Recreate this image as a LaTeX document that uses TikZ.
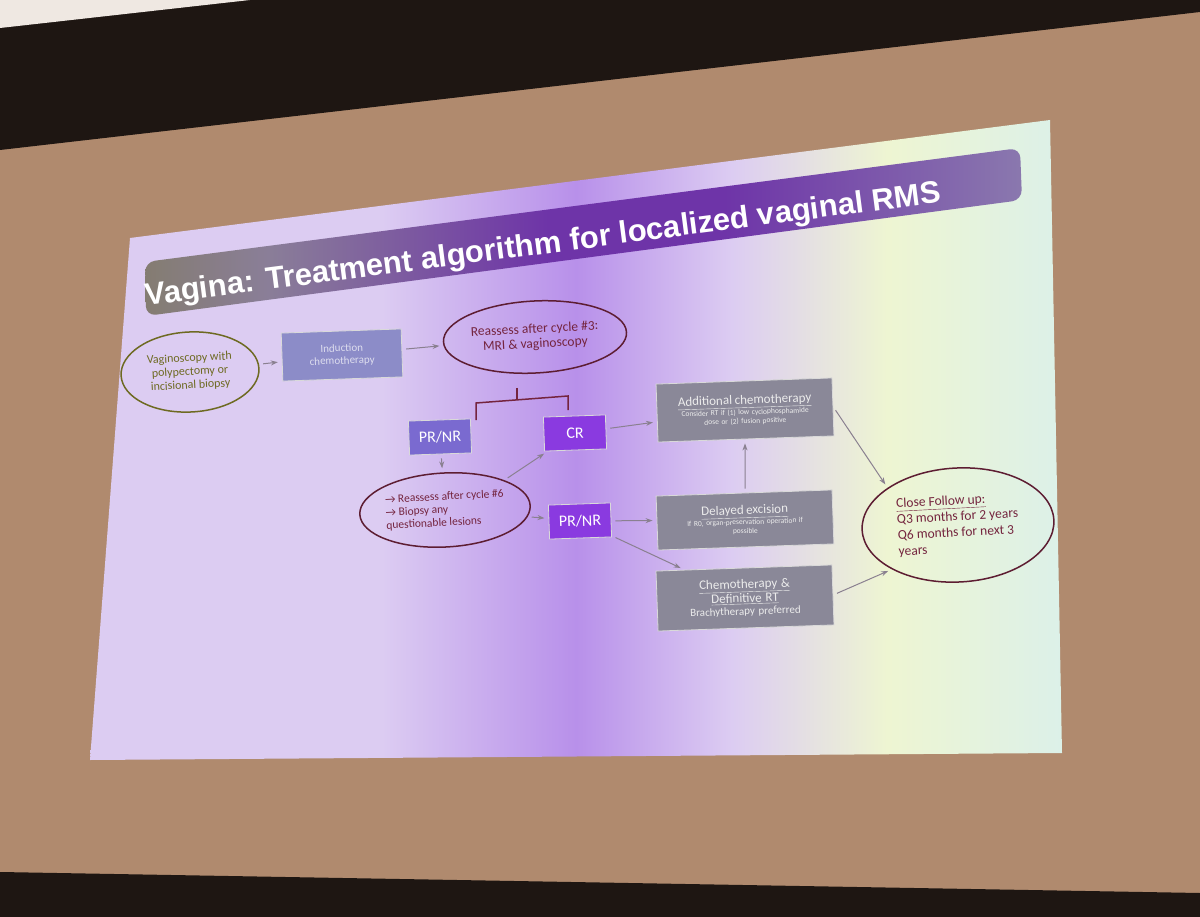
\documentclass[tikz,border=0pt]{standalone}
\usepackage{fontspec}
\setmainfont{Carlito}
\newfontfamily\titlefont{Liberation Sans}
\usetikzlibrary{shapes.geometric,arrows.meta}
\definecolor{roomtan}{HTML}{B08A6E}
\definecolor{roomdark}{HTML}{1E1612}
\definecolor{yg}{HTML}{E4F59A}
\definecolor{lav}{HTML}{DCCCF2}
\definecolor{purp}{HTML}{B890EA}
\definecolor{lyel}{HTML}{EEF5D2}
\definecolor{lcyan}{HTML}{D2EEF5}
\definecolor{olivetxt}{HTML}{6E6A22}
\definecolor{maroontxt}{HTML}{74243E}
\definecolor{arrowgray}{HTML}{8A8090}
\definecolor{graybox}{HTML}{8A8898}
\definecolor{tolive}{HTML}{7C7A3A}
\definecolor{tgray}{HTML}{8A7E98}
\definecolor{tpurp}{HTML}{6E34A8}
\definecolor{tgp}{HTML}{8A78AE}
\definecolor{crcol}{HTML}{8A3AE0}
\definecolor{prcol}{HTML}{7A6AD0}
\definecolor{indcol}{HTML}{8C8CC8}
\pgfdeclarehorizontalshading{slideshade}{100bp}{color(0bp)=(lav);color(3bp)=(yg);color(10bp)=(lyel);color(22bp)=(lav);color(40bp)=(lav);color(50bp)=(purp);color(58bp)=(lav);color(66bp)=(lyel);color(80bp)=(lcyan);color(100bp)=(lcyan)}
\pgfdeclarehorizontalshading{titleshade}{100bp}{color(0bp)=(tolive);color(15bp)=(tolive);color(32bp)=(tgray);color(48bp)=(tpurp);color(58bp)=(tpurp);color(75bp)=(tgp);color(100bp)=(tgp)}
\tikzset{
  ov/.style={ellipse,draw=maroontxt!80!black,line width=1.5pt,align=center,font=\fontsize{12}{13.5}\selectfont,inner sep=1pt,rotate=3},
  bx/.style={draw=white!70!gray,line width=0.8pt,align=center,minimum height=34,inner sep=3pt,rotate=2},
  gbx/.style={bx,fill=graybox,text=white!85!gray,text width=170,minimum height=58},
  pbx/.style={bx,fill=crcol,text=white,font=\fontsize{16}{18}\selectfont,minimum width=62},
  ar/.style={-{Stealth[length=7pt,width=5pt]},arrowgray,line width=1pt,shorten <=4pt,shorten >=4pt},
}
\begin{document}
\begin{tikzpicture}[x=1pt,y=-1pt]
\useasboundingbox (0,0) rectangle (1200,917);
\fill[roomtan] (0,0) rectangle (1200,917);
\fill[roomdark] (0,0) -- (1200,0) -- (1200,12) -- (0,150) -- cycle;
\fill[white!80!roomtan] (0,0) -- (250,0) -- (0,28) -- cycle;
\fill[roomdark] (0,872) -- (1200,893) -- (1200,917) -- (0,917) -- cycle;
% slide
\shade[shading=slideshade] (130,238) -- (1050,120) -- (1062,753) -- (90,760) -- cycle;
% title bar
\shade[shading=titleshade,rounded corners=10] (145,262) -- (1020,148) -- (1022,200) -- (146,316) -- cycle;
\node[text=white,font=\titlefont\bfseries\fontsize{31}{34}\selectfont,rotate=7.4] (title) at (543,246) {Vagina: Treatment algorithm for localized vaginal RMS};
% nodes
\node[ov,text=olivetxt,draw=olivetxt,minimum width=138,minimum height=80] (e1) at (190,372) {Vaginoscopy with\\polypectomy or\\incisional biopsy};
\node[bx,fill=indcol,text=white!70!indcol,minimum width=120,minimum height=48,font=\fontsize{11}{12.5}\selectfont] (ind) at (342,355) {Induction\\chemotherapy};
\node[ov,text=maroontxt,minimum width=152,minimum height=72,font=\fontsize{13.5}{15}\selectfont] (r3) at (535,337) {Reassess after cycle \#3:\\MRI \& vaginoscopy};
\node[pbx,fill=prcol] (pr1) at (440,437) {PR/NR};
\node[pbx] (cr) at (575,433) {CR};
\node[ov,text=maroontxt,minimum width=148,minimum height=74,align=left,font=\fontsize{11.5}{13}\selectfont] (r6) at (445,510) {→ Reassess after cycle \#6\\→ Biopsy any\\questionable lesions};
\node[pbx] (pr2) at (580,521) {PR/NR};
\node[gbx,font=\fontsize{7.5}{9}\selectfont] (add) at (745,410) {{\fontsize{13}{15}\selectfont\underline{Additional chemotherapy}}\\Consider RT if (1) low cyclophosphamide\\dose or (2) fusion positive};
\node[gbx,minimum height=54,font=\fontsize{7.5}{9}\selectfont] (del) at (745,520) {{\fontsize{13}{15}\selectfont\underline{Delayed excision}}\\If R0, organ-preservation operation if\\possible};
\node[gbx,minimum height=60,font=\fontsize{11}{12.5}\selectfont] (chr) at (745,598) {{\fontsize{13}{14.5}\selectfont\underline{Chemotherapy \&}}\\{\fontsize{13}{14.5}\selectfont\underline{Definitive RT}}\\Brachytherapy preferred};
\node[ov,text=maroontxt,minimum width=192,minimum height=114,align=left,font=\fontsize{13.5}{16}\selectfont] (fu) at (958,525) {\underline{Close Follow up:}\\Q3 months for 2 years\\Q6 months for next 3\\years};
% bracket
\coordinate (bt) at (517,388);
\coordinate (bm) at (517,400);
\coordinate (bl) at (476,403);
\coordinate (br) at (568,396);
\draw[maroontxt,line width=1.5pt] (bt) -- (bm);
\draw[maroontxt,line width=1.5pt] (bl) ++(0,17) -- (bl) -- (br) -- ++(0,14);
% arrows
\draw[ar] (e1) -- (ind);
\draw[ar] (ind) -- (r3);
\draw[ar] (pr1) -- (r6);
\draw[ar] (r6.north east) -- (cr);
\draw[ar] (r6) -- (pr2);
\draw[ar] (cr) -- (add);
\draw[ar] (pr2) -- (del);
\draw[ar] (pr2) -- (chr);
\draw[ar] (del) -- (add);
\draw[ar] (add.east) -- (fu.north west);
\draw[ar] (chr.east) -- (fu.south west);
\end{tikzpicture}
\end{document}
